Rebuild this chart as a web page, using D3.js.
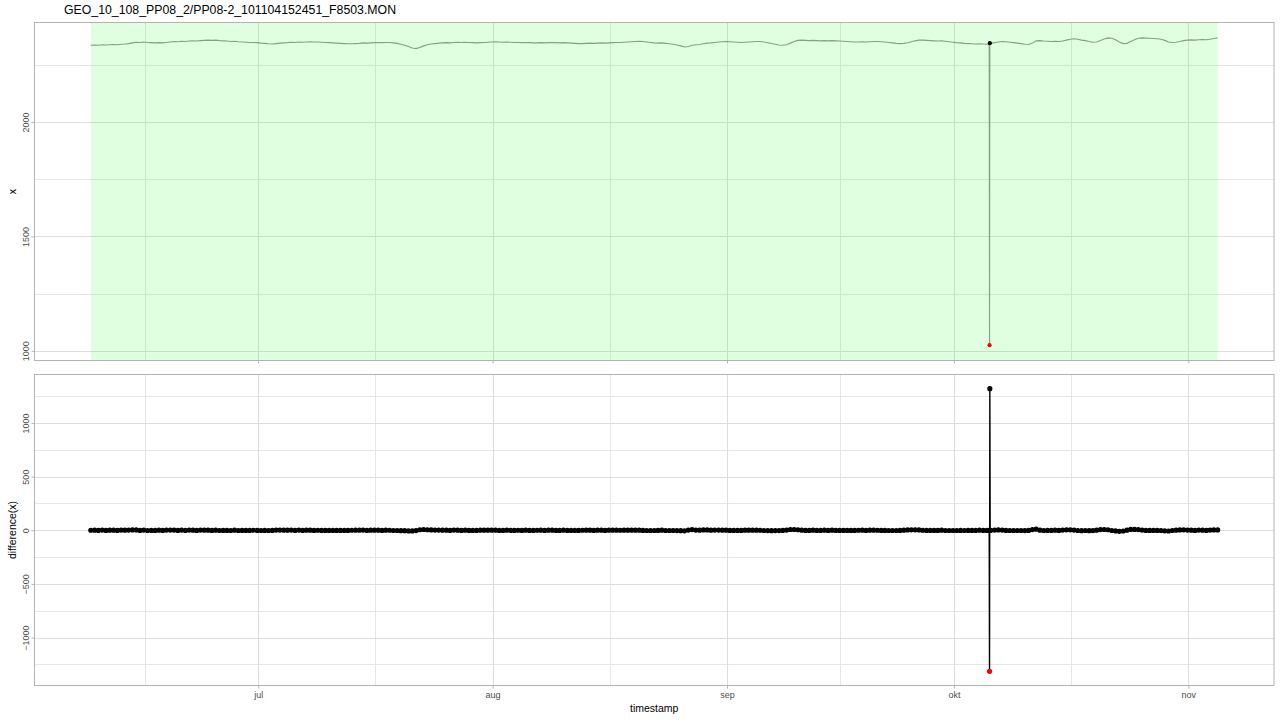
<!DOCTYPE html>
<html><head><meta charset="utf-8">
<script src="https://cdn.jsdelivr.net/npm/d3@7"></script>
<style>
html,body{margin:0;padding:0;background:#fff;}
svg{display:block;font-family:"Liberation Sans",Arial,sans-serif;}
</style></head>
<body><svg id="c" width="1280" height="720"></svg>
<script>
const chartTitle = "GEO_10_108_PP08_2/PP08-2_101104152451_F8503.MON";
const startTime = "2010-06-08T21:00";
const stepHours = 12;
const xValues = [
2336,2337,2336,2338,2337,2338,2339,2338,2340,2341,
2343,2346,2349,2348,2350,2348,2347,2346,2347,2346,
2348,2350,2352,2351,2353,2352,2354,2355,2354,2356,
2357,2358,2357,2358,2356,2355,2354,2352,2353,2351,
2350,2349,2348,2348,2347,2345,2344,2342,2341,2343,
2345,2346,2347,2349,2348,2350,2349,2350,2351,2350,
2350,2349,2348,2347,2346,2345,2344,2343,2342,2342,
2343,2344,2346,2345,2346,2347,2348,2347,2348,2348,
2346,2344,2340,2336,2330,2324,2321,2326,2333,2338,
2341,2343,2345,2346,2347,2346,2348,2349,2348,2349,
2348,2347,2346,2347,2348,2349,2350,2351,2350,2349,
2350,2349,2348,2348,2347,2348,2347,2346,2346,2347,
2346,2347,2348,2347,2346,2347,2346,2345,2344,2343,
2343,2344,2345,2344,2345,2346,2345,2346,2347,2348,
2348,2349,2350,2351,2352,2353,2352,2350,2348,2346,
2345,2346,2344,2342,2340,2337,2333,2328,2330,2336,
2338,2339,2342,2345,2346,2348,2350,2351,2352,2351,
2350,2349,2348,2349,2350,2351,2352,2352,2350,2347,
2343,2340,2337,2336,2338,2345,2352,2357,2358,2357,
2356,2357,2356,2355,2356,2355,2356,2355,2354,2353,
2352,2351,2350,2350,2351,2350,2351,2352,2352,2351,
2350,2348,2346,2344,2343,2344,2347,2351,2355,2358,
2358,2357,2356,2355,2354,2355,2353,2351,2349,2347,
2346,2344,2343,2342,2341,2342,2341,2340,2345,2347,
2350,2352,2351,2349,2347,2345,2343,2340,2339,2345,
2355,2356,2354,2353,2352,2353,2352,2354,2358,2362,
2364,2362,2358,2356,2352,2349,2350,2356,2363,2368,
2366,2360,2350,2343,2344,2352,2360,2366,2368,2367,
2366,2365,2364,2362,2357,2350,2348,2349,2352,2356,
2358,2359,2358,2360,2361,2360,2362,2365,2368
];
const spikeTimes = ["2010-10-05T16:00","2010-10-05T17:00","2010-10-05T18:00","2010-10-05T19:00"];
const spikeValues = [2340, 1025, 2345, 2345];
const monthTicks = ["2010-07-01","2010-08-01","2010-09-01","2010-10-01","2010-11-01"];
const monthLabels = ["jul","aug","sep","okt","nov"];
const topYTicks = [1000,1500,2000];
const botYTicks = [-1000,-500,0,500,1000];
const outlierThreshold = 500;

const parse = d3.timeParse("%Y-%m-%dT%H:%M");
const parseDay = d3.timeParse("%Y-%m-%d");
const t0 = parse(startTime);
let series = xValues.map((v,i)=>({t:d3.timeHour.offset(t0, i*stepHours), v}));
spikeTimes.forEach((s,i)=>series.push({t:parse(s), v:spikeValues[i]}));
series.sort((a,b)=>a.t-b.t);
const diffs = series.map((p,i)=>({t:p.t, v:p.v, d: i===0 ? 0 : p.v-series[i-1].v}));
const flagged = diffs.filter(d=>Math.abs(d.d)>outlierThreshold);

const svg = d3.select("#c");
const L=34.5, R=1274, T1=22.5, B1=360.5, T2=374.5, B2=685.5;
const gridMajor="#dedede", gridMinor="#e6e6e6", border="#b3b3b3", tickCol="#4d4d4d";

function pad(ext){const s=ext[1]-ext[0];return [ext[0]-0.05*s, ext[1]+0.05*s];}
const tExt = d3.extent(series, d=>d.t);
const td = pad([+tExt[0], +tExt[1]]);
const x = d3.scaleTime().domain([new Date(td[0]), new Date(td[1])]).range([L,R]);
const y1 = d3.scaleLinear().domain(pad(d3.extent(series,d=>d.v))).range([B1,T1]);
const y2 = d3.scaleLinear().domain(pad(d3.extent(diffs,d=>d.d))).range([B2,T2]);

const majorT = monthTicks.map(parseDay);
const extT = [d3.timeMonth.offset(majorT[0],-1), ...majorT, d3.timeMonth.offset(majorT[majorT.length-1],1)];
const minorT = [];
for(let i=1;i<extT.length;i++){const m=new Date((+extT[i-1]+ +extT[i])/2); if(m>=x.domain()[0]&&m<=x.domain()[1]) minorT.push(m);}

function minorY(ticks, sc){
  const step=ticks[1]-ticks[0]; const out=[];
  const all=[ticks[0]-step,...ticks,ticks[ticks.length-1]+step];
  for(let i=1;i<all.length;i++){const m=(all[i-1]+all[i])/2; const dm=sc.domain(); if(m>=dm[0]&&m<=dm[1]) out.push(m);}
  return out;
}

function panel(T,B,ysc,yticks){
  const g=svg.append("g");
  g.append("rect").attr("x",L).attr("y",T).attr("width",R-L).attr("height",B-T).attr("fill","#fff");
  g.selectAll(".ymin").data(minorY(yticks,ysc)).join("line")
    .attr("x1",L).attr("x2",R).attr("y1",d=>Math.round(ysc(d))+0.5).attr("y2",d=>Math.round(ysc(d))+0.5)
    .attr("stroke",gridMinor).attr("stroke-width",1);
  g.selectAll(".xmin").data(minorT).join("line")
    .attr("y1",T).attr("y2",B).attr("x1",d=>Math.round(x(d))+0.5).attr("x2",d=>Math.round(x(d))+0.5)
    .attr("stroke",gridMinor).attr("stroke-width",1);
  g.selectAll(".ymaj").data(yticks).join("line")
    .attr("x1",L).attr("x2",R).attr("y1",d=>Math.round(ysc(d))+0.5).attr("y2",d=>Math.round(ysc(d))+0.5)
    .attr("stroke",gridMajor).attr("stroke-width",1.1);
  g.selectAll(".xmaj").data(majorT).join("line")
    .attr("y1",T).attr("y2",B).attr("x1",d=>Math.round(x(d))+0.5).attr("x2",d=>Math.round(x(d))+0.5)
    .attr("stroke",gridMajor).attr("stroke-width",1.1);
  return g;
}

// top panel
const gTop = panel(T1,B1,y1,topYTicks);
gTop.append("rect").attr("x",x(tExt[0])).attr("y",T1).attr("width",x(tExt[1])-x(tExt[0])).attr("height",B1-T1)
  .attr("fill","#00ff00").attr("fill-opacity",0.12);
gTop.append("path").datum(series)
  .attr("d",d3.line().x(d=>x(d.t)).y(d=>y1(d.v)))
  .attr("fill","none").attr("stroke","rgb(130,160,130)").attr("stroke-width",1.1);
gTop.selectAll(".fp").data(flagged).join("circle")
  .attr("cx",d=>x(d.t)).attr("cy",d=>y1(d.v)).attr("r",2.1)
  .attr("fill",d=>d.d<0?"#ff0000":"#000");

// bottom panel
const gBot = panel(T2,B2,y2,botYTicks);
gBot.append("path").datum(diffs)
  .attr("d",d3.line().x(d=>x(d.t)).y(d=>y2(d.d)))
  .attr("fill","none").attr("stroke","#000").attr("stroke-width",1.4);
gBot.selectAll(".dp").data(diffs).join("circle")
  .attr("cx",d=>x(d.t)).attr("cy",d=>y2(d.d)).attr("r",2.6)
  .attr("fill",d=>d.d< -outlierThreshold?"#ff0000":"#000");

// borders
[[T1,B1],[T2,B2]].forEach(([T,B])=>{
  svg.append("rect").attr("x",L).attr("y",T).attr("width",R-L).attr("height",B-T)
    .attr("fill","none").attr("stroke",border).attr("stroke-width",1);
});

// axes
function styleAxis(g){
  g.select(".domain").remove();
  g.selectAll(".tick line").attr("stroke",border).attr("stroke-width",1);
}
const xAxisTop = d3.axisBottom(x).tickValues(majorT).tickSize(3).tickFormat("");
svg.append("g").attr("transform",`translate(0,${B1})`).call(xAxisTop).call(styleAxis);
const xAxisBot = d3.axisBottom(x).tickValues(majorT).tickSize(3).tickPadding(3)
  .tickFormat((d,i)=>monthLabels[i]);
const gxb = svg.append("g").attr("transform",`translate(0,${B2})`).call(xAxisBot).call(styleAxis);
gxb.selectAll("text").attr("fill",tickCol).attr("font-size","9px").attr("font-family","Liberation Sans, Arial, sans-serif").attr("dy","0.71em");

function yAxis(sc,ticks){
  const a=d3.axisLeft(sc).tickValues(ticks).tickSize(3).tickFormat(d3.format("d"));
  const g=svg.append("g").attr("transform",`translate(${L},0)`).call(a).call(styleAxis);
  g.selectAll("text").attr("fill",tickCol).attr("font-size","9px")
    .attr("font-family","Liberation Sans, Arial, sans-serif")
    .attr("text-anchor","middle").attr("x",null).attr("dy",null)
    .attr("transform","translate(-5.5,0) rotate(-90)");
  return g;
}
yAxis(y1,topYTicks);
yAxis(y2,botYTicks);

// titles
svg.append("text").attr("x",64).attr("y",14).attr("font-size","12.3px").attr("fill","#000").text(chartTitle);
svg.append("text").attr("x",(L+R)/2).attr("y",712).attr("text-anchor","middle").attr("font-size","10.5px").attr("fill","#000").text("timestamp");
svg.append("text").attr("transform",`translate(16,${(T1+B1)/2}) rotate(-90)`).attr("text-anchor","middle").attr("font-size","10.5px").attr("fill","#000").text("x");
svg.append("text").attr("transform",`translate(16,${(T2+B2)/2}) rotate(-90)`).attr("text-anchor","middle").attr("font-size","10.5px").attr("fill","#000").text("difference(x)");
</script></body></html>
